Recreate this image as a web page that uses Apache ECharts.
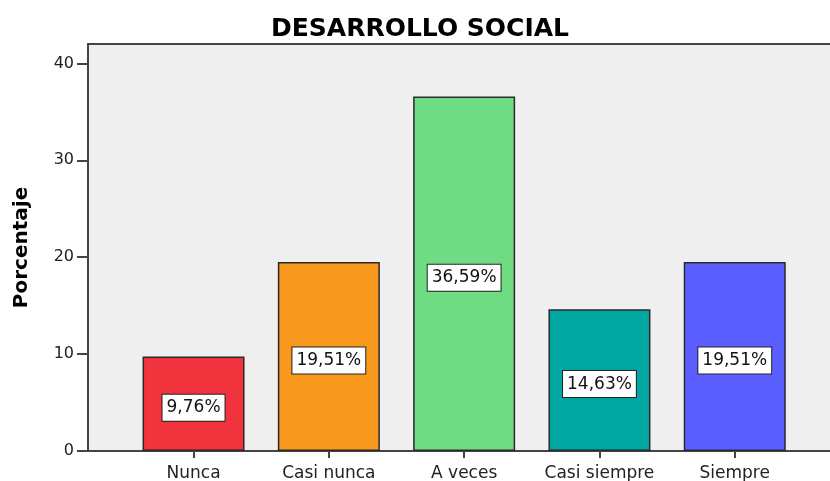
<!DOCTYPE html>
<html>
<head>
<meta charset="utf-8">
<script src="https://cdn.jsdelivr.net/npm/echarts@6/dist/echarts.min.js"></script>
<style>
  html, body { margin: 0; padding: 0; background: #fff; }
  #chart { width: 830px; height: 481px; }
</style>
</head>
<body>
<div id="chart"></div>
<script>
// datos del gráfico
const categorias = ['Nunca', 'Casi nunca', 'A veces', 'Casi siempre', 'Siempre']
const porcentajes = [9.76, 19.51, 36.59, 14.63, 19.51]
const colores = ['#f0333c', '#f8981d', '#6fdc84', '#00a6a0', '#5a5eff']
const yTicks = [0, 10, 20, 30, 40]

const fuente = 'DejaVu Sans, Liberation Sans, Arial, sans-serif'

const chart = echarts.init(document.getElementById('chart'))

const barData = porcentajes.map((v, i) => ({
  value: [i, v],
  itemStyle: { color: colores[i] }
}))

const ejeX = {
  type: 'value',
  min: -0.78,
  max: 4.704,
  splitLine: { show: false }
}

const option = {
  animation: false,
  title: {
    text: 'DESARROLLO SOCIAL',
    left: 415,
    textAlign: 'center',
    top: 12,
    textStyle: {
      fontFamily: fuente,
      fontSize: 25,
      fontWeight: 'bold',
      color: '#000'
    }
  },
  grid: {
    left: 88,
    right: 0,
    top: 44,
    bottom: 30,
    outerBoundsMode: 'none',
    show: true,
    backgroundColor: '#efefef',
    borderWidth: 0
  },
  xAxis: [{
    ...ejeX,
    axisLine: { show: true, lineStyle: { color: '#444', width: 2 } },
    axisTick: {
      show: true,
      customValues: categorias.map((c, i) => i),
      length: 7,
      lineStyle: { color: '#444', width: 2 }
    },
    axisLabel: {
      customValues: categorias.map((c, i) => i),
      formatter: v => categorias[Math.round(v)],
      fontFamily: fuente,
      fontSize: 17,
      color: '#222',
      margin: 14
    }
  }, {
    // borde superior del área
    ...ejeX,
    position: 'top',
    axisLine: { show: true, lineStyle: { color: '#444', width: 2 } },
    axisTick: { show: false },
    axisLabel: { show: false }
  }],
  yAxis: {
    type: 'value',
    min: 0,
    max: 42,
    name: 'Porcentaje',
    nameLocation: 'middle',
    nameGap: 56,
    nameTextStyle: {
      fontFamily: fuente,
      fontSize: 20,
      fontWeight: 'bold',
      color: '#000'
    },
    splitLine: { show: false },
    axisLine: { show: true, onZero: false, lineStyle: { color: '#444', width: 2 } },
    axisTick: {
      show: true,
      customValues: yTicks,
      length: 11,
      lineStyle: { color: '#444', width: 2 }
    },
    axisLabel: {
      customValues: yTicks,
      fontFamily: fuente,
      fontSize: 16,
      color: '#222',
      margin: 14
    }
  },
  series: [{
    type: 'bar',
    data: barData,
    barWidth: 102,
    itemStyle: { borderColor: '#2a2a2a', borderWidth: 1.5 },
    label: {
      show: true,
      position: 'inside',
      offset: [0, 4],
      formatter: p => p.value[1].toFixed(2).replace('.', ',') + '%',
      fontFamily: fuente,
      fontSize: 17,
      color: '#111',
      backgroundColor: '#fff',
      borderColor: '#222',
      borderWidth: 1,
      padding: [5, 4, 4, 4]
    }
  }]
}

chart.setOption(option)
</script>
</body>
</html>
